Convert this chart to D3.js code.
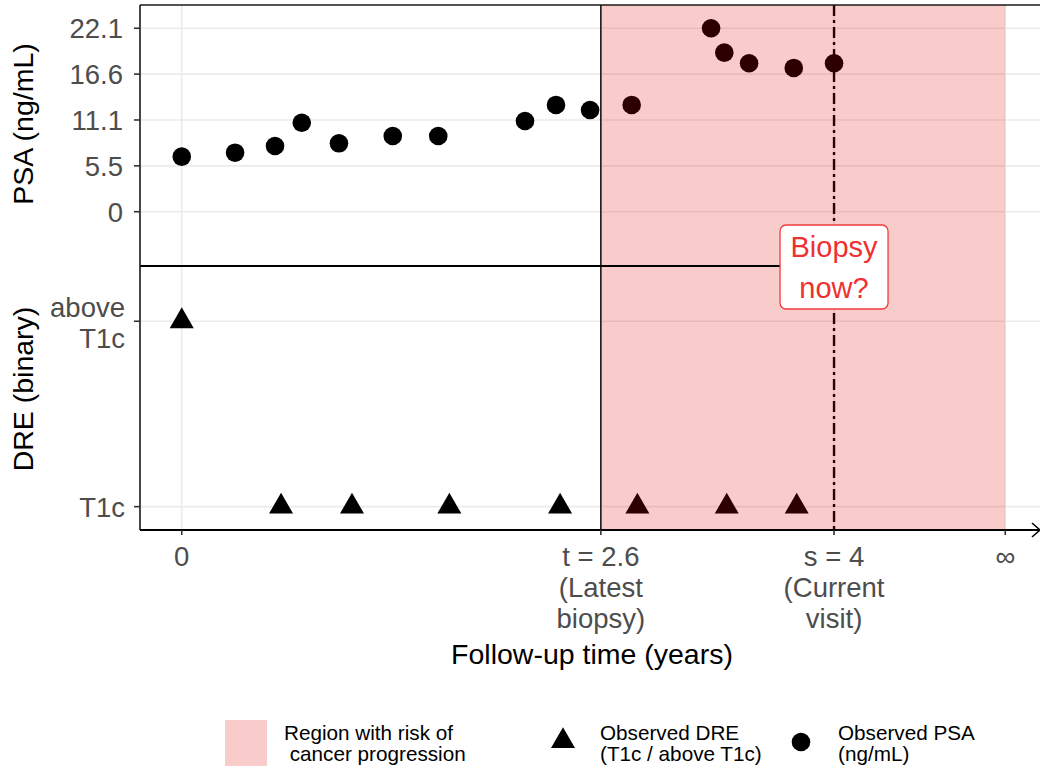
<!DOCTYPE html>
<html>
<head>
<meta charset="utf-8">
<script src="https://cdn.jsdelivr.net/npm/d3@7"></script>
<style>
  body { margin: 0; background: #fff; }
  svg { display: block; }
  text { font-family: "Liberation Sans", Arial, Helvetica, sans-serif; }
</style>
</head>
<body>
<svg id="chart" width="1040" height="769"></svg>
<script>
// Observed PSA (ng/mL) over follow-up time (years)
const psaTime  = [0, 0.327, 0.572, 0.736, 0.964, 1.294, 1.573, 2.105, 2.295, 2.504, 2.759, 3.246, 3.327, 3.479, 3.753, 4.0];
const psaValue = [6.63, 7.11, 7.92, 10.72, 8.24, 9.12, 9.12, 10.93, 12.86, 12.25, 12.86, 22.1, 19.16, 17.88, 17.32, 17.88];

// Observed DRE (0 = T1c, 1 = above T1c)
const dreTime  = [0, 0.609, 1.044, 1.641, 2.320, 2.794, 3.342, 3.771];
const dreValue = [1, 0, 0, 0, 0, 0, 0, 0];
const dreLevels = [["T1c"], ["above", "T1c"]];

// PSA axis ticks
const psaTicks = [0, 5.525, 11.05, 16.575, 22.1];
const psaTickLabels = ["0", "5.5", "11.1", "16.6", "22.1"];

// Key time points
const latestBiopsy = 2.57;   // t
const currentVisit = 4;      // s
const horizon = 5.05;        // position used for ∞
const xTickNotes = [[], ["(Latest", "biopsy)"], ["(Current", "visit)"], []];

const legendItems = ["Region with risk of|\u00a0cancer progression", "Observed DRE|(T1c / above T1c)", "Observed PSA|(ng/mL)"];

const svg = d3.select("#chart");
const L = 140, R = 1040, T = 5, MID = 266, B = 530;

const x = d3.scaleLinear().domain([-0.256, 5.263]).range([L, R]);
const yPsa = d3.scaleLinear().domain([-6.54, 24.9]).range([MID, T]);
const yDre = d3.scaleLinear().domain([-0.126, 1.298]).range([B, MID]);

const fmt1 = d3.format(".1f");
const xTicks = [0, latestBiopsy, currentVisit, horizon];
const xTickMain = ["0", `t = ${fmt1(latestBiopsy)}`, `s = ${currentVisit}`, "\u221e"];

const grid = "#ebebeb";
const tickText = "#4d4d4d";
const tickSize = 27.5, titleSize = 28.5;

// grid lines
const g = svg.append("g");
g.selectAll("line.hp").data(psaTicks).join("line")
  .attr("x1", L).attr("x2", R)
  .attr("y1", d => yPsa(d)).attr("y2", d => yPsa(d))
  .attr("stroke", grid).attr("stroke-width", 1.6);
g.selectAll("line.hd").data([0, 1]).join("line")
  .attr("x1", L).attr("x2", R)
  .attr("y1", d => yDre(d)).attr("y2", d => yDre(d))
  .attr("stroke", grid).attr("stroke-width", 1.6);
g.selectAll("line.v").data(xTicks).join("line")
  .attr("x1", d => x(d)).attr("x2", d => x(d))
  .attr("y1", T).attr("y2", B)
  .attr("stroke", grid).attr("stroke-width", 1.6);

// current visit line (dot-dash)
svg.append("line")
  .attr("x1", x(currentVisit)).attr("x2", x(currentVisit))
  .attr("y1", T).attr("y2", B)
  .attr("stroke", "#000").attr("stroke-width", 2.4)
  .attr("stroke-dasharray", "11,4,3,4");

// PSA points
svg.append("g").selectAll("circle").data(psaTime).join("circle")
  .attr("cx", d => x(d))
  .attr("cy", (d, i) => yPsa(psaValue[i]))
  .attr("r", 9.3)
  .attr("fill", "#000");

// DRE triangles
const tri = d3.symbol().type(d3.symbolTriangle).size(250);
svg.append("g").selectAll("path").data(dreTime).join("path")
  .attr("d", tri)
  .attr("transform", (d, i) => `translate(${x(d)},${yDre(dreValue[i])})`)
  .attr("fill", "#000");

// region with risk of cancer progression
const regionFill = "rgb(225,0,0)";
const regionOpacity = 0.2;
svg.append("rect")
  .attr("x", x(latestBiopsy)).attr("y", T)
  .attr("width", x(horizon) - x(latestBiopsy))
  .attr("height", B - T)
  .attr("fill", regionFill).attr("fill-opacity", regionOpacity);

// latest biopsy line
svg.append("line")
  .attr("x1", x(latestBiopsy)).attr("x2", x(latestBiopsy))
  .attr("y1", T).attr("y2", B)
  .attr("stroke", "#1a1a1a").attr("stroke-width", 1.6);

// panel separator
svg.append("line")
  .attr("x1", L).attr("x2", x(currentVisit))
  .attr("y1", MID).attr("y2", MID)
  .attr("stroke", "#000").attr("stroke-width", 1.8);

// frame: top, left
svg.append("line").attr("x1", L).attr("x2", R).attr("y1", T).attr("y2", T)
  .attr("stroke", "#1a1a1a").attr("stroke-width", 1.6);
svg.append("line").attr("x1", L).attr("x2", L).attr("y1", T).attr("y2", B)
  .attr("stroke", "#1a1a1a").attr("stroke-width", 1.6);

// x axis with arrow
svg.append("line").attr("x1", L).attr("x2", R).attr("y1", B).attr("y2", B)
  .attr("stroke", "#000").attr("stroke-width", 1.8);
svg.append("path")
  .attr("d", `M${R - 8},${B - 7}L${R},${B}L${R - 8},${B + 7}`)
  .attr("fill", "none").attr("stroke", "#000").attr("stroke-width", 1.6);

// x ticks and labels
const xt = svg.append("g").selectAll("g").data(xTicks).join("g")
  .attr("transform", d => `translate(${x(d)},0)`);
xt.append("line").attr("y1", B).attr("y2", B + 5)
  .attr("stroke", "#333").attr("stroke-width", 1.6);
xt.append("text")
  .attr("text-anchor", "middle").attr("font-size", tickSize).attr("fill", tickText)
  .each(function (d, i) {
    const lines = [xTickMain[i]].concat(xTickNotes[i]);
    d3.select(this).selectAll("tspan").data(lines).join("tspan")
      .attr("x", 0).attr("y", (s, j) => 566 + j * 31)
      .text(s => s);
  });

// PSA y ticks
const yt = svg.append("g").selectAll("g").data(psaTicks).join("g")
  .attr("transform", d => `translate(0,${yPsa(d)})`);
yt.append("line").attr("x1", L - 6).attr("x2", L)
  .attr("stroke", "#333").attr("stroke-width", 1.6);
yt.append("text")
  .attr("x", L - 17).attr("y", 10)
  .attr("text-anchor", "end").attr("font-size", tickSize).attr("fill", tickText)
  .text((d, i) => psaTickLabels[i]);

// DRE y ticks
const dt = svg.append("g").selectAll("g").data([0, 1]).join("g")
  .attr("transform", d => `translate(0,${yDre(d)})`);
dt.append("line").attr("x1", L - 6).attr("x2", L)
  .attr("stroke", "#333").attr("stroke-width", 1.6);
dt.append("text")
  .attr("text-anchor", "end").attr("font-size", tickSize).attr("fill", tickText)
  .each(function (d) {
    const lines = dreLevels[d];
    const y0 = lines.length === 1 ? 10 : -4;
    d3.select(this).selectAll("tspan").data(lines).join("tspan")
      .attr("x", L - 15).attr("y", (s, j) => y0 + j * 31)
      .text(s => s);
  });

// axis titles
svg.append("text")
  .attr("transform", "translate(592,664)")
  .attr("text-anchor", "middle").attr("font-size", titleSize).attr("fill", "#000")
  .text("Follow-up time (years)");
svg.append("text")
  .attr("transform", `translate(33,124) rotate(-90)`)
  .attr("text-anchor", "middle").attr("font-size", titleSize).attr("fill", "#000")
  .text("PSA (ng/mL)");
svg.append("text")
  .attr("transform", `translate(33,389) rotate(-90)`)
  .attr("text-anchor", "middle").attr("font-size", titleSize).attr("fill", "#000")
  .text("DRE (binary)");

// "Biopsy now?" label at the current visit
const bx = x(currentVisit);
svg.append("rect")
  .attr("x", bx - 54).attr("y", 225).attr("width", 108).attr("height", 84)
  .attr("rx", 6).attr("fill", "#fff")
  .attr("stroke", "#f23b3b").attr("stroke-width", 1.3);
svg.append("text")
  .attr("text-anchor", "middle").attr("font-size", 29).attr("fill", "#ef3030")
  .selectAll("tspan").data(["Biopsy", "now?"]).join("tspan")
  .attr("x", bx).attr("y", (s, j) => 257 + j * 41)
  .text(s => s);

// legend
const lg = svg.append("g").attr("font-size", 20.7).attr("fill", "#000");
lg.append("rect").attr("x", 225).attr("y", 720).attr("width", 42).attr("height", 46)
  .attr("fill", regionFill).attr("fill-opacity", regionOpacity);
lg.append("path").attr("d", tri).attr("transform", "translate(563,741)").attr("fill", "#000");
lg.append("circle").attr("cx", 801).attr("cy", 742).attr("r", 9.3).attr("fill", "#000");
const legendX = [284, 600, 838];
legendItems.forEach((s, i) => {
  lg.append("text").selectAll("tspan").data(s.split("|")).join("tspan")
    .attr("x", legendX[i]).attr("y", (t, j) => 740 + j * 21)
    .text(t => t);
});
</script>
</body>
</html>
